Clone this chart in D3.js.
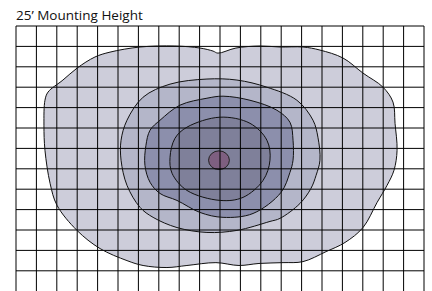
<!DOCTYPE html>
<html>
<head>
<meta charset="utf-8">
<script src="https://cdn.jsdelivr.net/npm/d3@7"></script>
<style>
  body { margin: 0; background: #fff; }
</style>
</head>
<body>
<div id="chart"></div>
<script>
// Title
const title = "25\u2019 Mounting Height";

// Grid lines, in grid cells measured from the fixture
const gridCols = d3.range(-10, 11);
const gridRows = d3.range(-6.5, 6.5, 1);

// Light pattern contours (grid cells from the fixture), outer to inner
const level1 = [
  [-7.7, -3.85], [-7.0, -4.44], [-6.13, -4.98], [-5.39, -5.22], [-3.92, -5.47],
  [-2.21, -5.52], [-0.98, -5.42], [-0.34, -5.27], [-0.1, -5.17], [0.78, -5.42],
  [1.96, -5.52], [2.94, -5.47], [4.07, -5.47], [4.9, -5.32], [6.03, -4.93],
  [7.01, -4.19], [7.99, -3.5], [8.48, -2.77], [8.58, -1.73], [8.68, -0.41],
  [8.53, 0.57], [8.19, 1.31], [7.7, 2.15], [7.01, 3.38], [6.13, 4.11],
  [5.2, 4.56], [4.07, 5.05], [3.09, 5.1], [1.91, 5.14], [0.93, 5.24],
  [-0.2, 5.1], [-1.62, 5.24], [-2.6, 5.34], [-3.77, 5.24], [-4.56, 5.0],
  [-5.88, 4.41], [-7.01, 3.52], [-7.99, 2.29], [-8.33, 1.21], [-8.58, -0.41],
  [-8.63, -1.64], [-8.58, -2.86], [-8.43, -3.26]
];
const level2 = [
  [-3.77, -3.01], [-2.45, -3.65], [-0.64, -3.9], [0.83, -3.85], [2.3, -3.5],
  [3.77, -2.86], [4.56, -1.88], [4.8, -1.05], [4.9, 0.08], [4.71, 0.82],
  [4.46, 1.46], [3.92, 2.2], [2.94, 2.93], [2.45, 3.08], [0.83, 3.52],
  [-0.64, 3.62], [-2.11, 3.38], [-3.28, 2.88], [-3.92, 2.39], [-4.56, 1.31],
  [-4.85, 0.08], [-4.85, -0.9], [-4.56, -1.88]
];
const level3 = [
  [-2.94, -1.88], [-1.96, -2.62], [-0.64, -2.96], [0.15, -3.06], [1.47, -2.86],
  [2.79, -2.37], [3.43, -1.78], [3.58, -0.9], [3.58, 0.08], [3.43, 0.67],
  [2.99, 1.66], [1.62, 2.69], [0.15, 2.88], [-0.98, 2.64], [-2.11, 2.05],
  [-2.94, 1.71], [-3.43, 1.16], [-3.68, 0.33], [-3.63, -0.65], [-3.43, -1.39]
];
const level4 = [
  [-2.45, -0.06], [-2.21, -0.99], [-1.62, -1.54], [0, -2.03], [1.47, -1.73],
  [2.3, -0.9], [2.45, 0.08], [2.11, 1.07], [1.13, 1.9], [0, 2.05],
  [-1.62, 1.56], [-2.35, 0.72]
];
// Fixture: centre x, centre y, radius x, radius y
const fixture = [-0.05, 0.08, 0.51, 0.46];

const levels = [level1, level2, level3, level4];
const levelColors = ["#cdcdda", "#b4b6c9", "#8c8fac", "#7f809a"];

const width = 432;
const height = 291;

const svg = d3.select("#chart")
  .append("svg")
  .attr("width", width)
  .attr("height", height);

const x = d3.scaleLinear().domain([-10, 10]).range([16, 424]);
const y = d3.scaleLinear().domain([-6.5, 6.5]).range([26, 291.2]);

const line = d3.line()
  .x(d => x(d[0]))
  .y(d => y(d[1]))
  .curve(d3.curveCatmullRomClosed.alpha(0.5));

// Filled contours
svg.selectAll("path.level")
  .data(levels)
  .enter()
  .append("path")
  .attr("class", "level")
  .attr("d", d => line(d))
  .attr("fill", (d, i) => levelColors[i])
  .attr("stroke", "none");

// Fixture
svg.append("ellipse")
  .attr("cx", x(fixture[0]))
  .attr("cy", y(fixture[1]))
  .attr("rx", x(fixture[2]) - x(0))
  .attr("ry", y(fixture[3]) - y(0))
  .attr("fill", "#7e5f80")
  .attr("stroke", "#222")
  .attr("stroke-width", 1);

// Grid on top of the fills
svg.selectAll("line.col")
  .data(gridCols)
  .enter()
  .append("line")
  .attr("class", "col")
  .attr("x1", d => x(d))
  .attr("x2", d => x(d))
  .attr("y1", y(-6.5))
  .attr("y2", height)
  .attr("stroke", "#000")
  .attr("stroke-width", 1);

svg.selectAll("line.row")
  .data(gridRows)
  .enter()
  .append("line")
  .attr("class", "row")
  .attr("x1", x(-10))
  .attr("x2", x(10))
  .attr("y1", d => y(d))
  .attr("y2", d => y(d))
  .attr("stroke", "#000")
  .attr("stroke-width", 1);

// Contour outlines
svg.selectAll("path.outline")
  .data(levels)
  .enter()
  .append("path")
  .attr("class", "outline")
  .attr("d", d => line(d))
  .attr("fill", "none")
  .attr("stroke", "#111")
  .attr("stroke-width", 1);

// Title
svg.append("text")
  .attr("x", 16)
  .attr("y", 20)
  .attr("font-family", "'Open Sans', sans-serif")
  .attr("font-size", 13.5)
  .attr("fill", "#111")
  .text(title);
</script>
</body>
</html>
